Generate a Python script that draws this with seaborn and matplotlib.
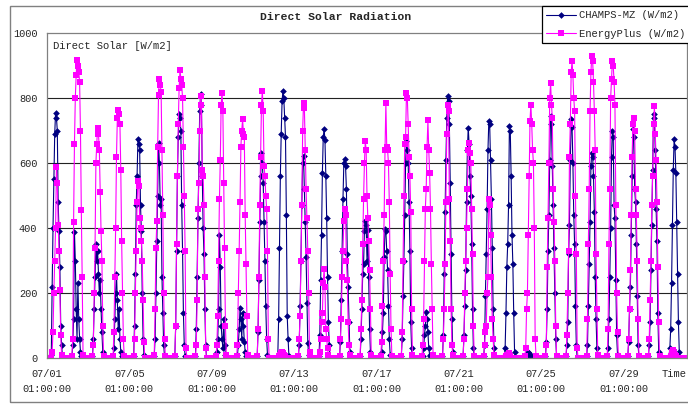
import numpy as np
import pandas as pd
import seaborn as sns
import matplotlib.pyplot as plt
from matplotlib.patches import Rectangle

# daylight hourly values (hour ending 06:00 .. 19:00), one row per day of July
champs_day = [
    [10, 220, 400, 550, 690, 755, 740, 700, 480, 390, 280, 100, 40, 5],
    [0, 40, 120, 388, 300, 150, 60, 230, 120, 60, 20, 5, 0, 0],
    [5, 60, 150, 250, 350, 300, 330, 260, 200, 240, 150, 80, 20, 0],
    [0, 30, 120, 200, 260, 180, 90, 150, 60, 20, 5, 0, 0, 0],
    [5, 100, 260, 470, 560, 673, 660, 640, 470, 390, 200, 60, 10, 0],
    [5, 60, 200, 360, 500, 663, 600, 470, 490, 250, 140, 40, 5, 0],
    [5, 100, 330, 560, 680, 750, 740, 700, 470, 330, 140, 40, 5, 0],
    [5, 90, 250, 430, 600, 760, 811, 780, 560, 400, 320, 150, 40, 0],
    [0, 20, 60, 150, 377, 280, 100, 60, 30, 120, 40, 10, 0, 0],
    [0, 10, 40, 90, 153, 120, 60, 140, 100, 50, 20, 5, 0, 0],
    [5, 80, 240, 420, 560, 632, 600, 540, 420, 300, 160, 60, 10, 0],
    [5, 120, 340, 560, 690, 790, 821, 800, 740, 680, 440, 130, 60, 5],
    [5, 40, 160, 300, 470, 600, 622, 520, 420, 310, 170, 45, 10, 0],
    [5, 70, 240, 380, 570, 680, 704, 670, 560, 430, 250, 110, 40, 0],
    [5, 50, 180, 330, 490, 600, 612, 590, 520, 320, 220, 110, 20, 0],
    [5, 60, 150, 260, 290, 390, 423, 410, 300, 393, 250, 90, 20, 0],
    [0, 20, 80, 140, 310, 398, 390, 330, 270, 160, 60, 10, 0, 0],
    [5, 60, 190, 300, 440, 600, 668, 640, 600, 480, 330, 110, 30, 0],
    [0, 5, 30, 70, 100, 143, 120, 80, 30, 10, 5, 0, 0, 0],
    [5, 70, 260, 450, 610, 740, 806, 790, 720, 540, 320, 120, 20, 0],
    [5, 70, 160, 270, 480, 640, 709, 660, 560, 500, 350, 150, 30, 0],
    [5, 40, 190, 320, 460, 640, 729, 720, 610, 490, 340, 150, 30, 0],
    [5, 30, 140, 280, 350, 470, 714, 700, 560, 380, 290, 140, 20, 0],
    [0, 0, 5, 10, 20, 15, 10, 5, 0, 0, 0, 0, 0, 0],
    [5, 50, 150, 330, 440, 610, 745, 720, 590, 470, 340, 200, 60, 0],
    [5, 40, 110, 320, 410, 610, 735, 710, 600, 440, 350, 160, 40, 0],
    [5, 40, 160, 290, 420, 590, 632, 620, 560, 450, 250, 120, 30, 0],
    [5, 30, 120, 250, 400, 620, 699, 680, 470, 430, 240, 70, 10, 0],
    [5, 50, 150, 220, 380, 560, 704, 680, 520, 480, 350, 190, 40, 0],
    [5, 40, 110, 270, 410, 580, 750, 740, 640, 460, 360, 140, 20, 0],
    [5, 30, 90, 230, 410, 580, 673, 650, 570, 420, 260, 110, 20, 0],
]

eplus_day = [
    [0, 20, 80, 200, 300, 400, 587, 540, 410, 330, 210, 70, 10, 0],
    [5, 60, 420, 660, 800, 870, 918, 900, 880, 850, 700, 454, 250, 10],
    [5, 40, 200, 340, 600, 660, 709, 690, 640, 510, 390, 300, 100, 5],
    [5, 80, 250, 400, 620, 740, 763, 750, 720, 580, 360, 200, 60, 5],
    [5, 60, 200, 330, 480, 546, 530, 430, 400, 360, 300, 180, 50, 0],
    [10, 150, 337, 423, 650, 810, 857, 840, 820, 640, 440, 200, 60, 5],
    [5, 100, 350, 560, 720, 830, 887, 860, 840, 800, 650, 500, 330, 30],
    [5, 40, 180, 460, 540, 700, 806, 780, 580, 560, 470, 250, 30, 0],
    [5, 40, 130, 300, 490, 610, 780, 816, 760, 540, 340, 100, 10, 0],
    [5, 40, 200, 330, 480, 650, 700, 734, 690, 680, 440, 290, 130, 10],
    [5, 90, 250, 470, 620, 780, 821, 760, 590, 560, 500, 460, 330, 60],
    [0, 0, 5, 10, 15, 20, 15, 10, 5, 0, 0, 0, 0, 0],
    [5, 60, 130, 300, 470, 700, 785, 770, 640, 520, 430, 330, 200, 20],
    [0, 20, 60, 110, 140, 230, 275, 220, 90, 60, 30, 10, 0, 0],
    [5, 60, 120, 250, 330, 423, 459, 440, 300, 240, 110, 40, 10, 0],
    [5, 90, 180, 350, 490, 600, 668, 640, 500, 430, 360, 270, 150, 10],
    [5, 50, 160, 300, 440, 640, 785, 650, 640, 600, 480, 260, 90, 5],
    [5, 80, 300, 500, 660, 680, 816, 800, 720, 620, 560, 450, 150, 10],
    [5, 40, 120, 300, 460, 520, 650, 731, 640, 570, 460, 290, 150, 10],
    [5, 60, 150, 290, 480, 690, 780, 760, 490, 360, 150, 40, 10, 0],
    [5, 60, 200, 300, 400, 520, 640, 663, 630, 600, 460, 320, 100, 5],
    [5, 40, 80, 100, 200, 250, 490, 470, 380, 250, 120, 60, 10, 0],
    [0, 0, 5, 10, 10, 15, 10, 5, 0, 0, 0, 0, 0, 0],
    [5, 30, 150, 200, 380, 560, 730, 780, 720, 640, 600, 400, 60, 5],
    [5, 40, 280, 430, 600, 800, 847, 780, 740, 520, 420, 300, 100, 5],
    [5, 70, 200, 330, 620, 720, 880, 913, 870, 800, 760, 500, 320, 30],
    [5, 120, 350, 520, 760, 880, 928, 915, 850, 760, 640, 320, 150, 10],
    [5, 90, 350, 520, 800, 860, 913, 900, 850, 780, 470, 200, 80, 5],
    [5, 60, 150, 270, 440, 620, 720, 737, 700, 520, 440, 300, 120, 5],
    [5, 60, 180, 300, 470, 560, 720, 775, 690, 610, 480, 280, 110, 5],
    [0, 0, 5, 10, 20, 25, 20, 10, 5, 0, 0, 0, 0, 0],
]

tick_dates = ["07/01", "07/05", "07/09", "07/13", "07/17", "07/21", "07/25", "07/29"]
tick_time = "01:00:00"


def to_hourly(rows):
    # night hours are zero: 01:00-05:00 and 20:00-24:00
    vals = []
    for row in rows:
        vals += [0] * 5 + list(row) + [0] * 5
    return vals


champs = to_hourly(champs_day)
eplus = to_hourly(eplus_day)
hours = np.arange(len(champs))

df = pd.DataFrame({"hour": hours, "champs": champs, "eplus": eplus})

sns.set_style("white")
plt.rcParams["font.family"] = ["Liberation Mono", "DejaVu Sans"]

fig = plt.figure(figsize=(6.88, 4.04), dpi=100)
W, H = 688, 404
ax = fig.add_axes([47 / W, 1 - 358 / H, (687 - 47) / W, (358 - 33) / H])

# outer chart frame
fig.patches.append(Rectangle((10 / W, 1 - 402 / H), 1.0, (402 - 6) / H,
                             transform=fig.transFigure, fill=False,
                             edgecolor="#808080", linewidth=1.0))

sns.lineplot(data=df, x="hour", y="champs", ax=ax, color="#000080",
             marker="D", markersize=3.4, markeredgewidth=0, linewidth=0.8,
             estimator=None, label="CHAMPS-MZ (W/m2)", legend=False)
sns.lineplot(data=df, x="hour", y="eplus", ax=ax, color="#FF00FF",
             marker="s", markersize=4.0, markeredgewidth=0, linewidth=0.8,
             estimator=None, label="EnergyPlus (W/m2)", legend=False)

ax.set_xlim(0, 746)
ax.set_ylim(0, 1000)
ax.set_yticks([0, 200, 400, 600, 800, 1000])
ax.set_yticklabels(["0", "200", "400", "600", "800", "1000"])
ax.set_xticks(np.arange(len(tick_dates)) * 96)
ax.set_xticklabels([d + "\n" + tick_time for d in tick_dates], linespacing=1.55)
ax.tick_params(axis="y", length=0, pad=7, labelsize=7.4)
ax.tick_params(axis="x", length=2, pad=6, labelsize=7.4, color="#808080")
ax.set_xlabel("")
ax.set_ylabel("")

for v in [200, 400, 600, 800]:
    ax.axhline(v, color="#222222", linewidth=0.8, zorder=0)
for s in ax.spines.values():
    s.set_color("#808080")
    s.set_linewidth(0.9)

ax.text(53 / W, 1 - 46 / H, "Direct Solar [W/m2]", transform=fig.transFigure,
        fontsize=7.6, va="center", ha="left")
fig.text(336 / W, 1 - 17 / H, "Direct Solar Radiation", fontsize=8.2,
         fontweight="bold", ha="center", va="center")
fig.text(662 / W, 1 - 374 / H, "Time", fontsize=7.6, ha="left", va="center")

handles, labels = ax.get_legend_handles_labels()
leg = fig.legend(handles, labels, loc="upper left",
                 bbox_to_anchor=(542 / W, 1 - 6 / H), fontsize=7.6,
                 frameon=True, fancybox=False, framealpha=1,
                 edgecolor="black", handlelength=2.8, handletextpad=0.3,
                 borderpad=0.4, labelspacing=0.8, borderaxespad=0)
leg.get_frame().set_linewidth(0.9)

fig.savefig("out.png", dpi=100)
